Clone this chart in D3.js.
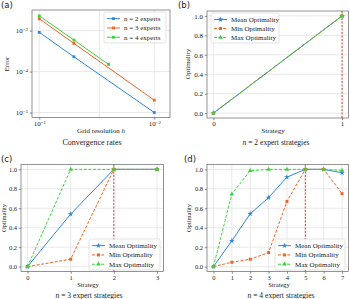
<!DOCTYPE html>
<html lang="en">
<head>
<meta charset="UTF-8">
<title>Expert strategies</title>
<script src="https://cdn.jsdelivr.net/npm/d3@7"></script>
<style>
  body { margin: 0; background: #fff; }
  text, tspan { font-family: "Liberation Serif", serif; fill: #222; }
</style>
</head>
<body>
<svg id="chart" width="350" height="299"></svg>
<script>
// (a) convergence data
const hN2 = [0.1, 0.05, 0.01];
const errN2 = [9.1e-4, 2.3e-4, 1.0e-5];
const hN3 = [0.1, 0.05, 0.01];
const errN3 = [1.95e-3, 4.9e-4, 2.0e-5];
const hN4 = [0.1, 0.05, 0.025];
const errN4 = [2.3e-3, 5.9e-4, 1.5e-4];
const aXTicks = [0.1, 0.01];
const aXGrid = [0.1, 0.03, 0.01];
const aYTicks = [1e-3, 1e-4, 1e-5];
const aLegend = ['n = 2 experts', 'n = 3 experts', 'n = 4 experts'];

// (b)-(d) optimality per strategy
const strat2 = [0, 1];
const mean2 = [0, 1];
const min2 = [0, 1];
const max2 = [0, 1];
const best2 = 1;

const strat3 = [0, 1, 2, 3];
const mean3 = [0, 0.54, 1, 1];
const min3 = [0, 0.076, 1, 1];
const max3 = [0, 1, 1, 1];
const best3 = 2;

const strat4 = [0, 1, 2, 3, 4, 5, 6, 7];
const mean4 = [0, 0.265, 0.543, 0.71, 0.92, 1, 1, 0.965];
const min4 = [0, 0.045, 0.076, 0.145, 0.67, 1, 1, 0.75];
const max4 = [0, 0.745, 0.986, 1, 1, 1, 1, 0.99];
const best4 = 5;

const optTicks = [0, 0.2, 0.4, 0.6, 0.8, 1.0];
const optLegend = ['Mean Optimality', 'Min Optimality', 'Max Optimality'];

const BLUE = '#2f86e0', ORANGE = '#f06424', GREEN = '#3dd23d', RED = '#e23b3b';
const SERIF = '"Liberation Serif", serif';

const svg = d3.select('#chart');

// draws frame, grid, ticks; returns a group for the marks
function axesBox(box, x, y, xt, yt, xg, opt) {
    const g = svg.append('g');
    g.append('rect')
        .attr('x', box.x0).attr('y', box.y0)
        .attr('width', box.x1 - box.x0).attr('height', box.y1 - box.y0)
        .attr('fill', '#fff');
    g.selectAll('.gx').data(xg).join('line')
        .attr('x1', d => x(d)).attr('x2', d => x(d))
        .attr('y1', box.y0).attr('y2', box.y1)
        .attr('stroke', '#e3e3e3').attr('stroke-width', 0.8);
    g.selectAll('.gy').data(yt).join('line')
        .attr('y1', d => y(d)).attr('y2', d => y(d))
        .attr('x1', box.x0).attr('x2', box.x1)
        .attr('stroke', '#e3e3e3').attr('stroke-width', 0.8);

    const xa = g.append('g').attr('transform', `translate(0,${box.y1})`)
        .call(d3.axisBottom(x).tickValues(xt).tickSize(2.2).tickPadding(1.3).tickSizeOuter(0).tickFormat(opt.xFmt));
    const ya = g.append('g').attr('transform', `translate(${box.x0},0)`)
        .call(d3.axisLeft(y).tickValues(yt).tickSize(2.2).tickPadding(1.8).tickSizeOuter(0).tickFormat(opt.yFmt));
    [xa, ya].forEach(a => {
        a.select('.domain').remove();
        a.selectAll('.tick line').attr('stroke', '#555').attr('stroke-width', 0.7);
        a.selectAll('.tick text').attr('font-family', SERIF)
            .attr('font-size', opt.tickSize).attr('fill', '#222');
    });
    if (opt.pow) {
        [xa, ya].forEach(a => a.selectAll('.tick text').each(function (d) {
            const t = d3.select(this).text('');
            t.append('tspan').text('10');
            t.append('tspan').attr('dy', '-0.45em').attr('font-size', opt.tickSize * 0.7)
                .text('\u2212' + Math.round(-Math.log10(d)));
        }));
    }
    const marks = svg.append('g');
    svg.append('rect')
        .attr('x', box.x0).attr('y', box.y0)
        .attr('width', box.x1 - box.x0).attr('height', box.y1 - box.y0)
        .attr('fill', 'none').attr('stroke', '#666').attr('stroke-width', 0.7);
    return marks;
}

function series(g, x, y, xs, ys, color, dash, shape, size) {
    const pts = xs.map((v, i) => [v, ys[i]]);
    g.append('path').datum(pts)
        .attr('fill', 'none').attr('stroke', color).attr('stroke-width', 1)
        .attr('stroke-dasharray', dash)
        .attr('d', d3.line().x(d => x(d[0])).y(d => y(d[1])));
    g.selectAll(null).data(pts).join('path')
        .attr('transform', d => `translate(${x(d[0])},${y(d[1])})`)
        .attr('fill', color)
        .attr('d', d3.symbol().type(shape).size(size));
}

function legend(bx, by, w, items, fontSize, rowH) {
    const g = svg.append('g');
    g.append('rect').attr('x', bx).attr('y', by)
        .attr('width', w).attr('height', items.length * rowH + 3)
        .attr('rx', 1.5).attr('fill', '#fff').attr('fill-opacity', 0.85)
        .attr('stroke', '#d0d0d0').attr('stroke-width', 0.6);
    items.forEach((it, i) => {
        const cy = by + 2 + rowH * (i + 0.5);
        g.append('line').attr('x1', bx + 3).attr('x2', bx + 16)
            .attr('y1', cy).attr('y2', cy)
            .attr('stroke', it.color).attr('stroke-width', 1).attr('stroke-dasharray', it.dash);
        g.append('path').attr('transform', `translate(${bx + 9.5},${cy})`)
            .attr('fill', it.color).attr('d', d3.symbol().type(it.shape).size(it.size));
        g.append('text').attr('x', bx + 20).attr('y', cy).attr('dy', '0.33em')
            .attr('font-family', SERIF).attr('font-size', fontSize).text(it.label);
    });
}

function label(x, y, txt, size, rotate, anchor) {
    const t = svg.append('text')
        .attr('font-family', SERIF).attr('font-size', size).attr('text-anchor', anchor || 'middle')
        .attr('transform', `translate(${x},${y})` + (rotate ? ' rotate(-90)' : ''));
    return t.text(txt);
}

function caption(x, y, n, txt, size) {
    const t = svg.append('text').attr('x', x).attr('y', y)
        .attr('font-family', SERIF).attr('font-size', size).attr('text-anchor', 'middle');
    t.append('tspan').attr('font-style', 'italic').text('n');
    t.append('tspan').text(` = ${n} ${txt}`);
}

function letter(x, y, txt) {
    svg.append('text').attr('x', x).attr('y', y)
        .style('font-family', '"DejaVu Sans", sans-serif').attr('font-size', 8.5).text(txt);
}

// ---- (a) ----
{
    const box = { x0: 32, x1: 170, y0: 10, y1: 117.5 };
    const x = d3.scaleLog().domain([0.1157, 0.0073]).range([box.x0, box.x1]);
    const y = d3.scaleLog().domain([7.55e-6, 3.2e-3]).range([box.y1, box.y0]);
    const g = axesBox(box, x, y, aXTicks, aYTicks, aXGrid, { pow: true, tickSize: 7, xFmt: d => d, yFmt: d => d });
    series(g, x, y, hN2, errN2, BLUE, null, d3.symbolSquare, 8);
    series(g, x, y, hN3, errN3, ORANGE, null, d3.symbolSquare, 8);
    series(g, x, y, hN4, errN4, GREEN, null, d3.symbolSquare, 8);
    legend(104, 12, 62, [
        { label: aLegend[0], color: BLUE, dash: null, shape: d3.symbolSquare, size: 8 },
        { label: aLegend[1], color: ORANGE, dash: null, shape: d3.symbolSquare, size: 8 },
        { label: aLegend[2], color: GREEN, dash: null, shape: d3.symbolSquare, size: 8 }
    ], 7, 9.3);
    label(101, 133, '', 7).call(t => {
        t.append('tspan').text('Grid resolution ');
        t.append('tspan').attr('font-style', 'italic').text('h');
    });
    label(7, 64, 'Error', 7, true).attr('dy', '0.35em');
    label(92, 145, 'Convergence rates', 8);
    letter(1, 8, '(a)');
}

const optItems = [
    { label: optLegend[0], color: BLUE, dash: null, shape: d3.symbolStar, size: 10 },
    { label: optLegend[1], color: ORANGE, dash: '3,1.6', shape: d3.symbolSquare, size: 9 },
    { label: optLegend[2], color: GREEN, dash: '3,1.6', shape: d3.symbolTriangle, size: 9 }
];

function optPanel(box, xs, mean, mn, mx, best, tickSize) {
    const x = d3.scaleLinear().domain([-0.05 * d3.max(xs), 1.05 * d3.max(xs)]).range([box.x0, box.x1]);
    const y = d3.scaleLinear().domain([-0.05, 1.05]).range([box.y1, box.y0]);
    const g = axesBox(box, x, y, xs, optTicks, xs, { tickSize: tickSize, xFmt: d3.format('d'), yFmt: d3.format('.1f') });
    g.append('line').attr('x1', x(best)).attr('x2', x(best))
        .attr('y1', box.y0).attr('y2', box.y1)
        .attr('stroke', RED).attr('stroke-width', 1).attr('stroke-dasharray', '2,1.5');
    series(g, x, y, xs, mean, BLUE, null, d3.symbolStar, 10);
    series(g, x, y, xs, mn, ORANGE, '3,1.6', d3.symbolSquare, 9);
    series(g, x, y, xs, mx, GREEN, '3,1.6', d3.symbolTriangle, 9);
}

// ---- (b) ----
optPanel({ x0: 207, x1: 348.5, y0: 11, y1: 118 }, strat2, mean2, min2, max2, best2, 7);
legend(211, 13, 68, optItems, 7, 9);
label(273, 133, 'Strategy', 7);
label(188, 64, 'Optimality', 7, true).attr('dy', '0.35em');
caption(276, 145, 2, 'expert strategies', 7.6);
letter(178, 8, '(b)');

// ---- (c) ----
optPanel({ x0: 21, x1: 163.5, y0: 164.5, y1: 271.5 }, strat3, mean3, min3, max3, best3, 6.5);
legend(89, 239, 71, optItems, 7, 9.3);
label(88, 287, 'Strategy', 6.5);
label(4, 218, 'Optimality', 6.5, true).attr('dy', '0.35em');
caption(89, 297.5, 3, 'expert strategies', 7.6);
letter(1, 162, '(c)');

// ---- (d) ----
optPanel({ x0: 207, x1: 348.5, y0: 164.5, y1: 271.5 }, strat4, mean4, min4, max4, best4, 6.5);
legend(275, 239, 70, optItems, 7, 9.3);
label(279, 287, 'Strategy', 6.5);
label(189, 218, 'Optimality', 6.5, true).attr('dy', '0.35em');
caption(281, 297.5, 4, 'expert strategies', 7.6);
letter(184, 162, '(d)');
</script>
</body>
</html>
